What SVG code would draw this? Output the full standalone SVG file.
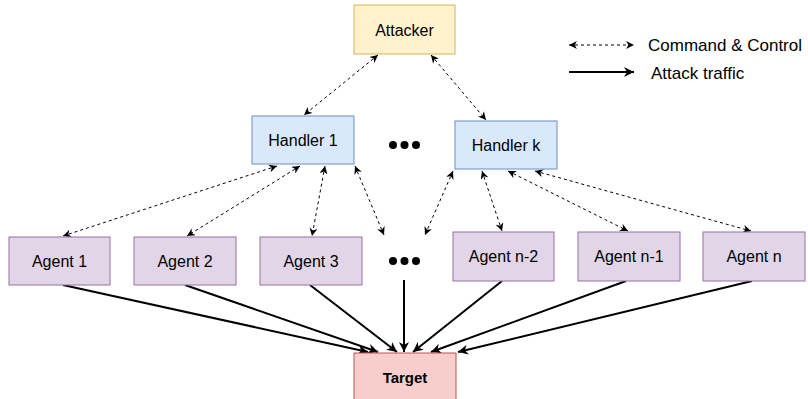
<svg xmlns="http://www.w3.org/2000/svg" width="808" height="399" viewBox="0 0 808 399">
<defs>
<style>
.lbl{font-family:"Liberation Sans",Arial,sans-serif;font-size:16px;fill:#000;text-anchor:middle;dominant-baseline:central}
.leg{font-size:17px;text-anchor:start}
.att{fill:#fff2cc;stroke:#d6b656;stroke-width:1}
.hdl{fill:#dae8fc;stroke:#6c8ebf;stroke-width:1}
.agt{fill:#e1d5e7;stroke:#9673a6;stroke-width:1}
.tgt{fill:#f8cecc;stroke:#b85450;stroke-width:1}
.cc{stroke:#000;stroke-width:1;stroke-dasharray:3 3;fill:none;marker-start:url(#ah);marker-end:url(#ah)}
.tr{stroke:#000;stroke-width:2;fill:none;marker-end:url(#at)}
.dot{fill:#000}
</style>
<marker id="ah" viewBox="0 0 10 10" refX="10" refY="5" markerWidth="9" markerHeight="8" markerUnits="userSpaceOnUse" orient="auto-start-reverse">
<path d="M0,0 L10,5 L0,10 L3,5 z" fill="#000"/>
</marker>
<marker id="at" viewBox="0 0 10 10" refX="10" refY="5" markerWidth="13" markerHeight="10" markerUnits="userSpaceOnUse" orient="auto">
<path d="M0,0 L10,5 L0,10 L3,5 z" fill="#000"/>
</marker>
</defs>
<g id="connectors">
<line class="cc" x1="378" y1="55" x2="304" y2="115"/>
<line class="cc" x1="431" y1="55" x2="486" y2="120"/>
<line class="cc" x1="277" y1="166" x2="63" y2="236"/>
<line class="cc" x1="300" y1="166" x2="187" y2="236"/>
<line class="cc" x1="325" y1="166" x2="312" y2="236"/>
<line class="cc" x1="355" y1="166" x2="384" y2="235"/>
<line class="cc" x1="453" y1="171" x2="425" y2="235"/>
<line class="cc" x1="482" y1="171" x2="502" y2="231"/>
<line class="cc" x1="508" y1="171" x2="628" y2="231"/>
<line class="cc" x1="535" y1="171" x2="751" y2="231"/>
<line class="tr" x1="63" y1="285" x2="368" y2="352"/>
<line class="tr" x1="185" y1="285" x2="378" y2="352"/>
<line class="tr" x1="310" y1="285" x2="397" y2="352"/>
<line class="tr" x1="404" y1="280" x2="404" y2="352"/>
<line class="tr" x1="502" y1="281" x2="413" y2="352"/>
<line class="tr" x1="626" y1="281" x2="431" y2="352"/>
<line class="tr" x1="752" y1="281" x2="458" y2="352"/>
</g>
<g id="legend">
<line class="cc" x1="569" y1="45" x2="634" y2="45"/>
<text class="lbl leg" x="648" y="45">Command &amp; Control</text>
<line class="tr" x1="569" y1="72" x2="634" y2="72"/>
<text class="lbl leg" x="651" y="73">Attack traffic</text>
</g>
<g id="attacker"><rect class="att" x="354" y="5" width="101" height="49"/><text class="lbl" x="404.5" y="30">Attacker</text></g>
<g id="handler1"><rect class="hdl" x="252" y="116" width="102" height="48"/><text class="lbl" x="303" y="140">Handler 1</text></g>
<g id="handlerk"><rect class="hdl" x="455" y="121" width="102" height="48"/><text class="lbl" x="506" y="145">Handler k</text></g>
<g id="dots-handlers"><circle class="dot" cx="393" cy="145" r="4"/><circle class="dot" cx="404.5" cy="145" r="4"/><circle class="dot" cx="416" cy="145" r="4"/></g>
<g id="agent1"><rect class="agt" x="9" y="237" width="101" height="48"/><text class="lbl" x="59.5" y="261">Agent 1</text></g>
<g id="agent2"><rect class="agt" x="134" y="237" width="102" height="48"/><text class="lbl" x="185" y="261">Agent 2</text></g>
<g id="agent3"><rect class="agt" x="260" y="237" width="102" height="48"/><text class="lbl" x="311" y="261">Agent 3</text></g>
<g id="dots-agents"><circle class="dot" cx="393" cy="261" r="4"/><circle class="dot" cx="404.5" cy="261" r="4"/><circle class="dot" cx="416" cy="261" r="4"/></g>
<g id="agentn2"><rect class="agt" x="453" y="232" width="101" height="49"/><text class="lbl" x="503.5" y="256">Agent n-2</text></g>
<g id="agentn1"><rect class="agt" x="578" y="232" width="102" height="49"/><text class="lbl" x="629" y="256">Agent n-1</text></g>
<g id="agentn"><rect class="agt" x="703" y="232" width="102" height="49"/><text class="lbl" x="754" y="256">Agent n</text></g>
<g id="target"><rect class="tgt" x="354" y="353" width="102" height="50"/><text class="lbl" x="405" y="377" style="font-weight:bold;font-size:15px">Target</text></g>
</svg>
